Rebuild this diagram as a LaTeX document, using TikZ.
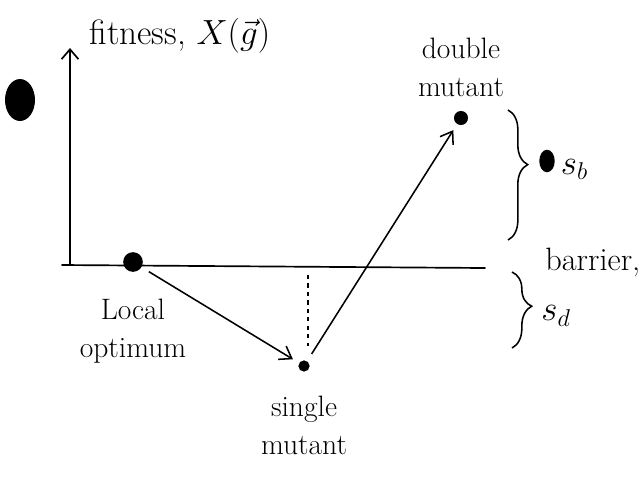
\documentclass[tikz,border=0pt]{standalone}
\usetikzlibrary{positioning,arrows.meta,decorations.pathreplacing,shapes.geometric}

\begin{document}
\begin{tikzpicture}[x=0.025cm,y=-0.025cm,
  dot/.style={circle,fill=black,inner sep=0pt,minimum size=#1},
  lbl/.style={font=\fontsize{21}{27}\selectfont,align=center,inner sep=1pt},
  big/.style={font=\fontsize{25}{30}\selectfont,inner sep=1pt},
  axis/.style={line width=1.2pt,line cap=round},
  jump/.style={->,>={Straight Barb[length=8pt,width=11pt]},line width=1.1pt,shorten <=6pt,shorten >=5pt},
  brc/.style={decorate,decoration={brace,amplitude=14pt,#1},line width=1.1pt},
]
\useasboundingbox (0,0) rectangle (644,476);

% === AXES ===
\coordinate (orig) at (70,265);
\coordinate (ytip) at (70,48);
\coordinate (xstart) at (62,265);
\coordinate (xend) at (485,268);
\draw[axis,->,>={Straight Barb[length=7pt,width=12pt]}] (orig) -- (ytip);
\draw[axis] (xstart) -- (xend);
\node[big,anchor=west] (fit) at (88,36) {fitness, $X(\vec{g})$};

% blob next to the axis
\fill (20,100) ellipse (15 and 21);

% === GENOTYPES ===
\node[dot=14pt] (lopt) at (133,262) {};
\node[dot=8pt] (smut) at (304,366) {};
\node[dot=10pt] (dmut) at (461,118) {};

\node[lbl,below=18pt of lopt] (loptlab) {Local\\optimum};
\node[lbl,below=16pt of smut] (smutlab) {single\\mutant};
\node[lbl,above=9pt of dmut] (dmutlab) {double\\mutant};

\draw[jump] (lopt) -- (smut);
\draw[jump] (smut) -- (dmut);

% drop from the axis to the single mutant
\coordinate (drop) at (308,275);
\draw[dashed,line width=1pt,shorten >=14pt] (drop) -- (drop |- smut);

% === BENEFIT / BARRIER ===
\coordinate (sbtop) at (508,110);
\coordinate (sbbot) at (508,240);
\draw[brc={aspect=0.42}] (sbtop) -- (sbbot);
\node[dot=11pt,ellipse,minimum height=16pt] (sbdot) at (547,161) {};
\node[big,right=3pt of sbdot,yshift=-6pt] (sb) {$s_b$};

\coordinate (sdtop) at (512,272);
\coordinate (sdbot) at (512,348);
\draw[brc={aspect=0.45}] (sdtop) -- (sdbot);
\node[lbl,font=\fontsize{23}{27}\selectfont,anchor=east] (bar) at (642,262) {barrier,};
\node[big] (sd) at (556,316) {$s_d$};

\end{tikzpicture}
\end{document}
